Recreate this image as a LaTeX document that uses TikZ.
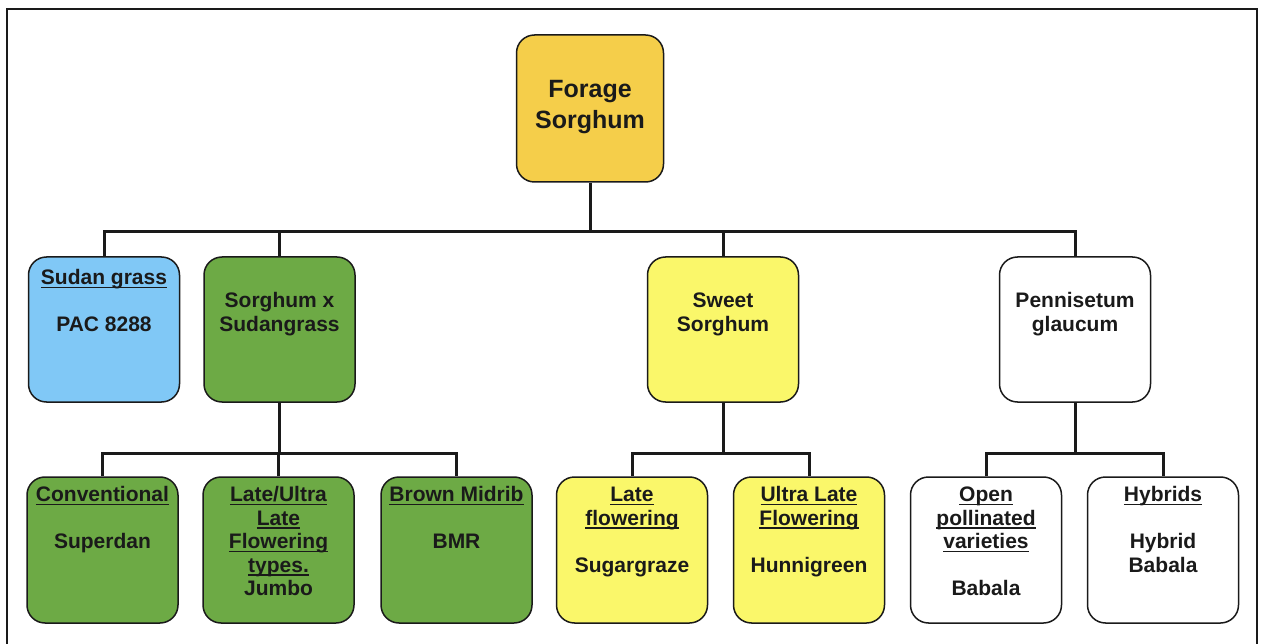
\documentclass[tikz,border=0pt]{standalone}
\usepackage{fontspec}
\setmainfont{Liberation Sans}
\newcommand\ulx[1]{\setbox0\hbox{#1}\rlap{\rule[-3.2pt]{\wd0}{1.5pt}}\box0}
\usetikzlibrary{positioning}
\definecolor{rootC}{HTML}{F5CE4A}
\definecolor{blueC}{HTML}{80C8F6}
\definecolor{greenC}{HTML}{6DAA45}
\definecolor{yellowC}{HTML}{FAF76A}
\definecolor{inkC}{HTML}{1A1A1A}
\tikzset{
  box/.style={draw=inkC, line width=1.5pt, rounded corners=18pt, minimum width=151pt, inner sep=0pt},
  rowtwo/.style={box, minimum height=145pt},
  rowthree/.style={box, minimum height=146pt},
  txt/.style={anchor=north, align=center, inner sep=0pt, text=inkC,
    font=\bfseries\fontsize{21}{23.5}\selectfont},
  conn/.style={draw=inkC, line width=3pt, line join=miter},
  frame/.style={draw=inkC, line width=1.5pt}
}
\begin{document}
\begin{tikzpicture}[x=1pt,y=-1pt]
\useasboundingbox (0,0) rectangle (1261,644);
% frame
\coordinate (fbl) at (7,644);
\coordinate (ftl) at (7,9);
\coordinate (ftr) at (1257,9);
\coordinate (fbr) at (1257,644);
\draw[frame] (fbl) -- (ftl) -- (ftr) -- (fbr);

% root
\node[box, fill=rootC, minimum width=147pt, minimum height=147pt] (root) at (590,108.5) {};
\node[txt, font=\bfseries\fontsize{25}{31}\selectfont, below=41pt of root.north] (root-t) {\strut Forage\\Sorghum};

% row 2
\node[rowtwo, fill=blueC]   (sudan) at (104,329.5) {};
\node[rowtwo, fill=greenC]  (sxs)   at (279.5,329.5) {};
\node[rowtwo, fill=yellowC] (sweet) at (723,329.5) {};
\node[rowtwo, fill=white]   (penn)  at (1075,329.5) {};

\node[txt, below=12pt of sudan.north] (sudan-t) {\strut\ulx{Sudan grass}\\[23.5pt]PAC 8288};
\node[txt, below=35pt of sxs.north] (sxs-t) {\strut Sorghum x\\Sudangrass};
\node[txt, below=35pt of sweet.north] (sweet-t) {\strut Sweet\\Sorghum};
\node[txt, below=35pt of penn.north] (penn-t) {\strut Pennisetum\\glaucum};

% row 3
\node[rowthree, fill=greenC]  (conv)  at (102.5,550) {};
\node[rowthree, fill=greenC]  (late)  at (278.5,550) {};
\node[rowthree, fill=greenC]  (bmr)   at (456.5,550) {};
\node[rowthree, fill=yellowC] (lflow) at (632,550) {};
\node[rowthree, fill=yellowC] (ulate) at (809,550) {};
\node[rowthree, fill=white]   (open)  at (986,550) {};
\node[rowthree, fill=white]   (hyb)   at (1163,550) {};

\node[txt, below=9pt of conv.north] (conv-t) {\strut\ulx{Conventional}\\[23.5pt]Superdan};
\node[txt, below=9pt of late.north] (late-t) {\strut\ulx{Late/Ultra}\\\ulx{Late}\\\ulx{Flowering}\\\ulx{types.}\\Jumbo};
\node[txt, below=9pt of bmr.north] (bmr-t) {\strut\ulx{Brown Midrib}\\[23.5pt]BMR};
\node[txt, below=9pt of lflow.north] (lflow-t) {\strut\ulx{Late}\\\ulx{flowering}\\[23.5pt]Sugargraze};
\node[txt, below=9pt of ulate.north] (ulate-t) {\strut\ulx{Ultra Late}\\\ulx{Flowering}\\[23.5pt]Hunnigreen};
\node[txt, below=9pt of open.north] (open-t) {\strut\ulx{Open}\\\ulx{pollinated}\\\ulx{varieties}\\[23.5pt]Babala};
\node[txt, below=9pt of hyb.north] (hyb-t) {\strut\ulx{Hybrids}\\[23.5pt]Hybrid\\Babala};

% connectors
\coordinate (bus) at (0,232);
\coordinate (sub) at (0,453);
\draw[conn] (root.south) -- (root.south |- bus);
\draw[conn] (sudan.north) -- (sudan.north |- bus) -- (penn.north |- bus) -- (penn.north);
\draw[conn] (sxs.north) -- (sxs.north |- bus);
\draw[conn] (sweet.north) -- (sweet.north |- bus);

\draw[conn] (sxs.south) -- (sxs.south |- sub);
\draw[conn] (conv.north) -- (conv.north |- sub) -- (bmr.north |- sub) -- (bmr.north);
\draw[conn] (late.north) -- (late.north |- sub);

\draw[conn] (sweet.south) -- (sweet.south |- sub);
\draw[conn] (lflow.north) -- (lflow.north |- sub) -- (ulate.north |- sub) -- (ulate.north);

\draw[conn] (penn.south) -- (penn.south |- sub);
\draw[conn] (open.north) -- (open.north |- sub) -- (hyb.north |- sub) -- (hyb.north);
\end{tikzpicture}
\end{document}
